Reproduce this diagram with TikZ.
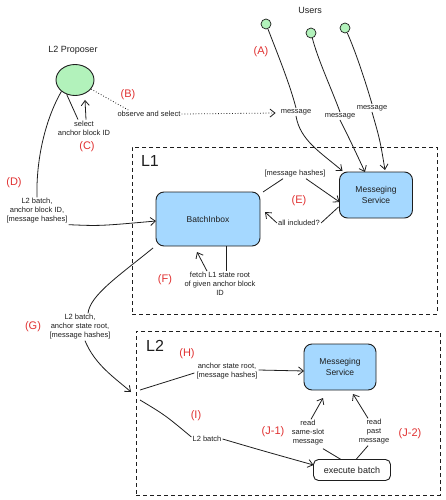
\documentclass[tikz,border=0pt]{standalone}
\usepackage{fontspec}
\setmainfont{Liberation Sans}
\usetikzlibrary{arrows.meta,shapes.geometric,calc}
\definecolor{ink}{HTML}{1E1E1E}
\definecolor{bluef}{HTML}{A5D8FF}
\definecolor{greenf}{HTML}{B2F2BB}
\definecolor{redt}{HTML}{E03131}
\begin{document}
\begin{tikzpicture}[x=1pt,y=-1pt,
  lbl/.style={font=\fontsize{7.5}{9}\selectfont, align=center, inner sep=1pt, text=ink},
  title/.style={font=\fontsize{9}{11}\selectfont, text=ink, inner sep=1pt},
  big/.style={font=\fontsize{16}{18}\selectfont, text=ink, inner sep=1pt},
  tag/.style={font=\fontsize{11}{13}\selectfont, text=redt, inner sep=1pt},
  ln/.style={draw=ink, line width=0.8pt},
  arr/.style={ln, -{Straight Barb[length=5pt,width=8pt]}},
  box/.style={draw=ink, line width=0.9pt, rounded corners=8pt, fill=bluef, align=center, text=ink, font=\fontsize{8.5}{10.5}\selectfont, outer sep=0pt},
  frame/.style={draw=ink, line width=1pt, dash pattern=on 4pt off 3pt, anchor=north west, outer sep=0pt, inner sep=0pt},
  ucirc/.style={circle, draw=ink, fill=greenf, minimum size=10pt, inner sep=0pt, line width=0.7pt}
]
\useasboundingbox (0,0) rectangle (446,500);

% frames
\node[frame, minimum width=305pt, minimum height=167pt] (l1f) at (132,147) {};
\node[frame, minimum width=304pt, minimum height=164pt] (l2f) at (136,331) {};
\node[big] (l1t) at (150,161) {L1};
\node[big] (l2t) at (155,346) {L2};

% users
\node[title] (users) at (310,10) {Users};
\node[ucirc] (u1) at (266,24) {};
\node[ucirc] (u2) at (311,33) {};
\node[ucirc] (u3) at (345,28) {};
\node[tag] (tA) at (261,52) {(A)};
\node[lbl] (msg1) at (296,112) {message};
\node[lbl] (msg2) at (340,116) {message};
\node[lbl] (msg3) at (372,108) {message};

% proposer
\node[title] (ptitle) at (73,50) {L2 Proposer};
\node[ellipse, draw=ink, fill=greenf, minimum width=38pt, minimum height=31pt, line width=0.9pt, inner sep=0pt] (prop) at (75,80) {};
\node[tag] (tB) at (128,95) {(B)};
\node[lbl] (obs) at (149,114) {observe and select};
\node[lbl] (sel) at (84,128) {select\\anchor block ID};
\node[tag] (tC) at (87,147) {(C)};
\node[tag] (tD) at (14,183) {(D)};
\node[lbl] (dl) at (37,211) {L2 batch,\\anchor block ID,\\{[}message hashes{]}};

% L1
\node[box, minimum width=104pt, minimum height=54pt] (bi) at (208,219) {BatchInbox};
\node[box, minimum width=73pt, minimum height=46pt] (ms1) at (376,195) {Messeging\\Service};
\node[lbl] (mh) at (295,174) {{[}message hashes{]}};
\node[tag] (tE) at (299,201) {(E)};
\node[lbl] (ai) at (299,223) {all included?};
\node[lbl] (fl) at (220,284) {fetch L1 state root\\of given anchor block\\ID};
\node[tag] (tF) at (165,280) {(F)};

% G
\node[tag] (tG) at (33,327) {(G)};
\node[lbl] (gl) at (80,327) {L2 batch,\\anchor state root,\\{[}message hashes{]}};
\coordinate (gin) at (131,392);

% L2
\node[tag] (tH) at (187,354) {(H)};
\node[lbl] (hl) at (227,371) {anchor state root,\\{[}message hashes{]}};
\node[box, minimum width=72pt, minimum height=46pt] (ms2) at (340,367) {Messeging\\Service};
\node[tag] (tI) at (196,416) {(I)};
\node[lbl] (il) at (207,439) {L2 batch};
\node[box, fill=white, minimum width=77pt, minimum height=21pt, rounded corners=5pt, font=\fontsize{9}{11}\selectfont] (ex) at (352,470) {execute batch};
\node[tag] (tJ1) at (273,432) {(J-1)};
\node[lbl] (j1) at (308,433) {read\\same-slot\\message};
\node[tag] (tJ2) at (410,434) {(J-2)};
\node[lbl] (j2) at (374,432) {read\\past\\message};
\coordinate (hs) at (140,390);
\coordinate (is) at (140,400);

% user messages
\draw[ln] (u1) .. controls (280,60) and (290,85) .. (msg1.north);
\draw[arr] (msg1.south) .. controls (300,140) and (320,152) .. ($(ms1.north west)+(3,-1)$);
\draw[ln] (u2) .. controls (318,60) and (332,90) .. (msg2.north);
\draw[arr] (msg2.south) .. controls (350,140) .. ($(ms1.north)+(-11,0)$);
\draw[ln] (u3) .. controls (355,50) and (365,80) .. (msg3.north);
\draw[arr] (msg3.south) .. controls (380,140) .. ($(ms1.north)+(9,-2)$);

% proposer connectors
\draw[ln, dotted] (prop) -- ($(obs.north west)+(12,0)$);
\draw[ln, dotted, -{Straight Barb[length=5pt,width=8pt]}] (obs.east) -- ($(msg1.west)+(-4,1)$);
\draw[ln] (prop.240) -- ($(sel.north)+(-6,0)$);
\draw[arr] ($(sel.north)+(2,0)$) -- ($(prop.south)+(10,4)$);
\draw[ln] (prop.220) .. controls (45,120) and (36,160) .. (dl.north);
\draw[arr] (dl.south east) .. controls (100,226) .. ($(bi.west)+(0,2)$);

% L1 connectors
\draw[ln] ($(bi.north east)+(3,0)$) -- ($(mh.south)+(-12,0)$);
\draw[arr] ($(mh.south)+(11,0)$) -- ($(ms1.west)+(0,7)$);
\draw[ln] ($(ms1.west)+(-1,12)$) -- (ai.east);
\draw[arr] (ai.west) -- ($(bi.east)+(5,-7)$);
\draw[ln] ($(bi.south)+(18,0)$) -- ($(fl.north)+(6,0)$);
\draw[arr] ($(fl.north)+(-13,0)$) -- ($(bi.south)+(-11,6)$);

% G
\draw[ln] ($(bi.south west)+(-3,2)$) .. controls (120,275) and (90,295) .. ($(gl.north)+(8,0)$);
\draw[arr] ($(gl.south)+(5,0)$) .. controls (95,365) and (115,378) .. (gin);

% L2 connectors
\draw[ln] (hs) -- ($(hl.west)+(-1,2)$);
\draw[arr] ($(hl.east)+(0,-1)$) -- ($(ms2.west)+(0,4)$);
\draw[ln] (is) .. controls (165,415) .. ($(il.west)+(0,-2)$);
\draw[arr] (il.east) .. controls (260,450) .. ($(ex.west)+(0,-5)$);
\draw[ln] ($(ex.north)+(-11,0)$) -- ($(j1.south)+(15,2)$);
\draw[arr] ($(j1.north)+(3,0)$) -- ($(ms2.south)+(-17,8)$);
\draw[ln] ($(ex.north)+(4,0)$) -- ($(j2.south)+(-6,0)$);
\draw[arr] ($(j2.north)+(-6,0)$) -- ($(ms2.south)+(13,4)$);
\end{tikzpicture}
\end{document}
